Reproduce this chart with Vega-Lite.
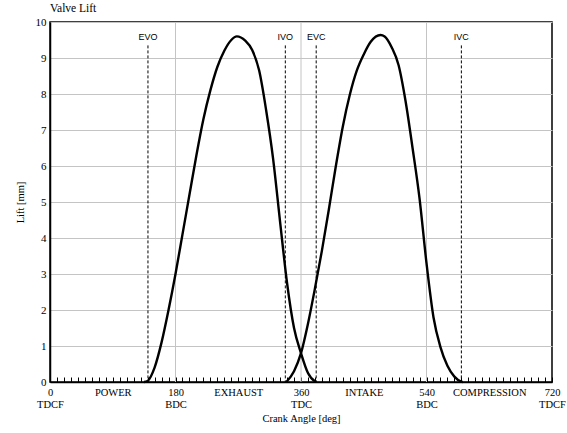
{
  "$schema": "https://vega.github.io/schema/vega-lite/v6.json",
  "autosize": {"type": "none"},
  "padding": {"left": 50, "top": 22, "right": 15, "bottom": 51},
  "width": 502,
  "height": 360,
  "background": "white",
  "title": {
    "text": "Valve Lift",
    "anchor": "start",
    "frame": "group",
    "font": "Liberation Serif",
    "fontSize": 11.5,
    "fontWeight": "normal",
    "color": "#000",
    "offset": 2
  },
  "config": {
    "font": "Liberation Serif",
    "view": {"stroke": "#000", "strokeWidth": 1.5},
    "axis": {
      "titleFont": "Liberation Serif",
      "titleFontSize": 10.5,
      "titleFontWeight": "normal",
      "titleColor": "#000",
      "labelFont": "Liberation Serif",
      "labelColor": "#000",
      "labelOverlap": false,
      "labelFlush": false,
      "labelBound": false,
      "domainColor": "#000",
      "domainWidth": 1.5,
      "gridColor": "#c4c4c4",
      "gridWidth": 1
    },
    "axisX": {
      "labelFontSize": 10.5,
      "labelLineHeight": 12,
      "labelPadding": 10,
      "tickSize": -5,
      "tickColor": "#000",
      "tickWidth": 1,
      "titlePadding": 4,
      "grid": false
    },
    "axisY": {
      "labelFontSize": 11,
      "labelPadding": 4,
      "ticks": false,
      "titlePadding": 10,
      "grid": true
    }
  },
  "datasets": {
    "lift": [
      {"valve": "Exhaust", "angle": 135, "lift": 0},
      {"valve": "Exhaust", "angle": 140, "lift": 0.03},
      {"valve": "Exhaust", "angle": 150, "lift": 0.4},
      {"valve": "Exhaust", "angle": 160, "lift": 1.1},
      {"valve": "Exhaust", "angle": 170, "lift": 2.0},
      {"valve": "Exhaust", "angle": 180, "lift": 3.0},
      {"valve": "Exhaust", "angle": 190, "lift": 4.1},
      {"valve": "Exhaust", "angle": 200, "lift": 5.2},
      {"valve": "Exhaust", "angle": 210, "lift": 6.3},
      {"valve": "Exhaust", "angle": 220, "lift": 7.3},
      {"valve": "Exhaust", "angle": 230, "lift": 8.1},
      {"valve": "Exhaust", "angle": 240, "lift": 8.75},
      {"valve": "Exhaust", "angle": 250, "lift": 9.2},
      {"valve": "Exhaust", "angle": 260, "lift": 9.5},
      {"valve": "Exhaust", "angle": 268, "lift": 9.6},
      {"valve": "Exhaust", "angle": 280, "lift": 9.48},
      {"valve": "Exhaust", "angle": 290, "lift": 9.22},
      {"valve": "Exhaust", "angle": 300, "lift": 8.65},
      {"valve": "Exhaust", "angle": 310, "lift": 7.55},
      {"valve": "Exhaust", "angle": 320, "lift": 6.2},
      {"valve": "Exhaust", "angle": 330, "lift": 4.45},
      {"valve": "Exhaust", "angle": 340, "lift": 2.75},
      {"valve": "Exhaust", "angle": 350, "lift": 1.5},
      {"valve": "Exhaust", "angle": 360, "lift": 0.8},
      {"valve": "Exhaust", "angle": 370, "lift": 0.25},
      {"valve": "Exhaust", "angle": 380, "lift": 0.02},
      {"valve": "Exhaust", "angle": 382, "lift": 0},
      {"valve": "Intake", "angle": 339, "lift": 0},
      {"valve": "Intake", "angle": 350, "lift": 0.3},
      {"valve": "Intake", "angle": 360, "lift": 0.8},
      {"valve": "Intake", "angle": 370, "lift": 1.62},
      {"valve": "Intake", "angle": 380, "lift": 2.6},
      {"valve": "Intake", "angle": 390, "lift": 3.65},
      {"valve": "Intake", "angle": 400, "lift": 4.8},
      {"valve": "Intake", "angle": 410, "lift": 6.0},
      {"valve": "Intake", "angle": 420, "lift": 7.1},
      {"valve": "Intake", "angle": 430, "lift": 7.98},
      {"valve": "Intake", "angle": 440, "lift": 8.65},
      {"valve": "Intake", "angle": 450, "lift": 9.1},
      {"valve": "Intake", "angle": 460, "lift": 9.45},
      {"valve": "Intake", "angle": 474, "lift": 9.64},
      {"valve": "Intake", "angle": 480, "lift": 9.6},
      {"valve": "Intake", "angle": 490, "lift": 9.3},
      {"valve": "Intake", "angle": 500, "lift": 8.8},
      {"valve": "Intake", "angle": 510, "lift": 7.8},
      {"valve": "Intake", "angle": 520, "lift": 6.5},
      {"valve": "Intake", "angle": 530, "lift": 5.1},
      {"valve": "Intake", "angle": 540, "lift": 3.3},
      {"valve": "Intake", "angle": 550, "lift": 1.8},
      {"valve": "Intake", "angle": 560, "lift": 0.97},
      {"valve": "Intake", "angle": 570, "lift": 0.45},
      {"valve": "Intake", "angle": 580, "lift": 0.15},
      {"valve": "Intake", "angle": 590, "lift": 0.01},
      {"valve": "Intake", "angle": 592, "lift": 0}
    ],
    "events": [
      {"event": "EVO", "angle": 140.5},
      {"event": "IVO", "angle": 337.5},
      {"event": "EVC", "angle": 381.8},
      {"event": "IVC", "angle": 590}
    ],
    "bdcTdc": [
      {"angle": 180},
      {"angle": 360},
      {"angle": 540}
    ]
  },
  "encoding": {
    "x": {
      "field": "angle",
      "type": "quantitative",
      "scale": {"domain": [0, 720], "nice": false, "zero": false},
      "axis": {
        "title": "Crank Angle [deg]",
        "values": [0,10,20,30,40,50,60,70,80,90,100,110,120,130,140,150,160,170,180,190,200,210,220,230,240,250,260,270,280,290,300,310,320,330,340,350,360,370,380,390,400,410,420,430,440,450,460,470,480,490,500,510,520,530,540,550,560,570,580,590,600,610,620,630,640,650,660,670,680,690,700,710,720],
        "labelExpr": "datum.value === 0 ? ['0','TDCF'] : datum.value === 90 ? 'POWER' : datum.value === 180 ? ['180','BDC'] : datum.value === 270 ? 'EXHAUST' : datum.value === 360 ? ['360','TDC'] : datum.value === 450 ? 'INTAKE' : datum.value === 540 ? ['540','BDC'] : datum.value === 630 ? 'COMPRESSION' : datum.value === 720 ? ['720','TDCF'] : ''"
      }
    }
  },
  "layer": [
    {
      "data": {"name": "bdcTdc"},
      "mark": {"type": "rule", "color": "#c4c4c4", "strokeWidth": 1},
      "encoding": {
        "y": {"datum": 10, "scale": {"domain": [0, 10], "nice": false}, "axis": {"title": "Lift [mm]", "values": [0,1,2,3,4,5,6,7,8,9,10]}},
        "y2": {"datum": 0}
      }
    },
    {
      "data": {"name": "lift"},
      "mark": {"type": "line", "color": "#000", "strokeWidth": 2.4, "interpolate": "monotone"},
      "encoding": {
        "y": {"field": "lift", "type": "quantitative", "axis": {"title": "Lift [mm]", "values": [0,1,2,3,4,5,6,7,8,9,10]}},
        "detail": {"field": "valve"}
      }
    },
    {
      "data": {"name": "events"},
      "mark": {"type": "rule", "color": "#000", "strokeWidth": 1, "strokeDash": [3, 2]},
      "encoding": {
        "y": {"datum": 9.35, "axis": {"title": "Lift [mm]", "values": [0,1,2,3,4,5,6,7,8,9,10]}},
        "y2": {"datum": 0}
      }
    },
    {
      "data": {"name": "events"},
      "mark": {"type": "text", "font": "Liberation Sans", "fontSize": 9, "color": "#000", "baseline": "middle", "align": "center"},
      "encoding": {
        "y": {"datum": 9.58, "axis": {"title": "Lift [mm]", "values": [0,1,2,3,4,5,6,7,8,9,10]}},
        "text": {"field": "event"}
      }
    }
  ]
}
